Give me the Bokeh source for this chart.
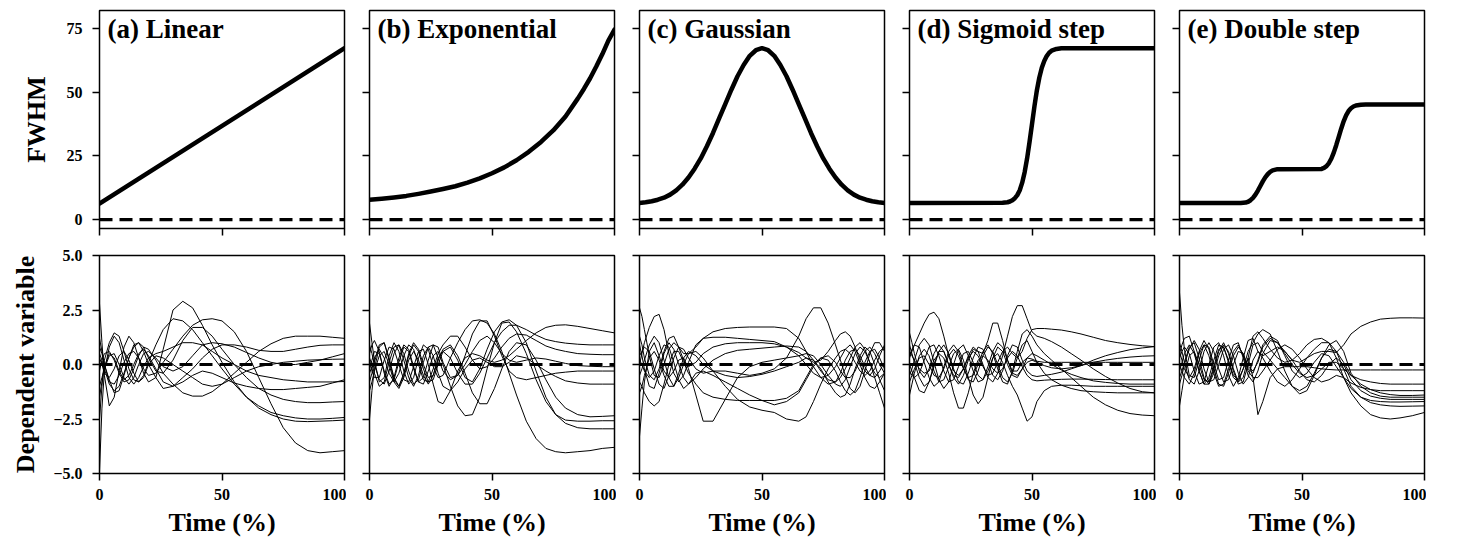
from bokeh.plotting import figure
from bokeh.layouts import column, row
from bokeh.models import Label, FixedTicker, Range1d, Span
from bokeh.embed import file_html
from bokeh.resources import INLINE

# ---------------- data ----------------
panel_titles = ["(a) Linear", "(b) Exponential", "(c) Gaussian", "(d) Sigmoid step", "(e) Double step"]
top_ylabel = "FWHM"
bottom_ylabel = "Dependent variable"
xlabel = "Time (%)"
x_ticks = [0, 50, 100]
top_y_ticks = [0, 25, 50, 75]
bottom_y_ticks = [-5, -2.5, 0, 2.5, 5]
bottom_y_tick_labels = ["\u22125.0", "\u22122.5", "0.0", "2.5", "5.0"]

# FWHM curves (top row)
fwhm_lin_t = [0, 100]
fwhm_lin = [6.3, 67.3]
fwhm_exp_t = [0, 5, 10, 15, 20, 25, 30, 35, 40, 45, 50, 55, 60, 65, 70, 75, 80, 85, 87.5, 90, 92.5, 95, 97.5, 100]
fwhm_exp = [7.8, 8.2, 8.7, 9.3, 10.1, 11.0, 12.0, 13.1, 14.5, 16.2, 18.2, 20.5, 23.3, 26.6, 30.5, 35.0, 40.5,
            47.5, 51.3, 55.4, 60.0, 64.9, 70.3, 74.6]
fwhm_gau_t = [0, 2.5, 5, 7.5, 10, 12.5, 15, 17.5, 20, 22.5, 25, 27.5, 30, 32.5, 35, 37.5, 40, 42.5, 45, 47.5, 50,
              52.5, 55, 57.5, 60, 62.5, 65, 67.5, 70, 72.5, 75, 77.5, 80, 82.5, 85, 87.5, 90, 92.5, 95, 97.5, 100]
fwhm_gau = [6.5, 6.8, 7.2, 7.8, 8.6, 9.8, 11.5, 13.7, 16.5, 20.0, 24.0, 28.8, 34.0, 39.7, 45.3, 51.0, 56.3, 60.7,
            64.3, 66.5, 67.3, 66.5, 64.3, 60.7, 56.3, 51.0, 45.3, 39.7, 34.0, 28.8, 24.0, 20.0, 16.5, 13.7, 11.5,
            9.8, 8.6, 7.8, 7.2, 6.8, 6.5]
fwhm_sig_t = [0, 38, 40, 41, 42, 43, 44, 45, 46, 47, 48, 49, 50, 51, 52, 53, 54, 55, 56, 57, 58, 60, 62, 100]
fwhm_sig = [6.5, 6.6, 6.8, 7.1, 7.6, 8.4, 9.6, 11.5, 14.5, 18.6, 24.0, 30.5, 37.5, 44.5, 50.8, 55.8, 59.6, 62.3,
            64.2, 65.5, 66.3, 67.0, 67.3, 67.3]
fwhm_dbl_t = [0, 25, 27, 28, 29, 30, 31, 32, 33, 34, 35, 36, 37, 38, 40, 58, 59, 60, 61, 62, 63, 64, 65, 66, 67,
              68, 69, 70, 71, 72, 74, 76, 100]
fwhm_dbl = [6.5, 6.5, 6.7, 7.0, 7.6, 8.5, 9.8, 11.4, 13.2, 15.0, 16.6, 17.8, 18.7, 19.3, 19.8, 19.9, 20.3, 21.0,
            22.2, 24.0, 26.4, 29.3, 32.5, 35.7, 38.6, 40.9, 42.6, 43.7, 44.4, 44.8, 45.1, 45.2, 45.2]

# Dependent variable curves (bottom row)
time_a = [0, 1, 2, 4, 6, 8, 10, 12, 14, 16, 18, 20, 23, 26, 30, 34, 38, 42, 46, 50, 55, 60, 65, 70, 75, 80, 85,
          90, 95, 100]
dv_linear = [
    [-4.9, -2.0, -0.3, 0.8, 1.3, 1.0, 0.2, -0.6, -0.9, -0.6, -0.1, 0.3, 0.5, 0.6, 0.8, 1.0, 1.0, 0.9, 0.6, 0.3,
     0.0, -0.3, -0.5, -0.6, -0.7, -0.75, -0.8, -0.8, -0.8, -0.78],
    [2.8, 1.0, -0.5, -1.9, -1.5, -0.3, 0.8, 1.3, 1.0, 0.3, -0.4, -0.8, -0.6, 0.7, 2.5, 2.9, 2.6, 1.8, 0.9, 0.1,
     -0.8, -1.5, -2.0, -2.3, -2.5, -2.6, -2.62, -2.6, -2.58, -2.55],
    [-2.5, -1.0, 0.2, 1.0, 1.45, 1.3, 0.6, -0.2, -0.7, -0.8, -0.5, 0.1, 0.9, 1.6, 2.1, 2.0, 1.6, 1.0, 0.4, -0.2,
     -0.9, -1.5, -1.9, -2.2, -2.35, -2.45, -2.5, -2.5, -2.47, -2.43],
    [1.2, 0.6, 0.0, -0.8, -0.9, -0.5, 0.1, 0.5, 0.6, 0.3, -0.2, -0.5, -0.4, 0.1, 0.7, 1.3, 1.8, 2.05, 2.1, 2.0,
     1.5, 0.6, -0.6, -1.8, -2.9, -3.6, -3.95, -4.05, -4.0, -3.95],
    [0.5, 0.2, -0.2, -0.9, -1.2, -1.0, -0.4, 0.3, 0.8, 1.0, 0.8, 0.3, -0.3, -0.4, 0.2, 1.1, 1.7, 1.7, 1.3, 0.7,
     0.0, -0.6, -1.1, -1.4, -1.6, -1.7, -1.75, -1.75, -1.72, -1.7],
    [-0.3, 0.2, 0.5, 0.6, 0.2, -0.4, -0.8, -0.7, -0.2, 0.4, 0.8, 0.7, 0.2, -0.4, -0.9, -1.3, -1.45, -1.45, -1.25,
     -0.9, -0.4, 0.1, 0.6, 0.95, 1.2, 1.3, 1.3, 1.3, 1.25, 1.2],
    [0.8, 0.5, 0.0, -0.7, -1.3, -1.2, -0.5, 0.3, 0.9, 1.0, 0.6, 0.0, -0.6, -1.1, -1.0, -0.6, -0.2, 0.3, 0.7, 0.9,
     0.9, 0.8, 0.65, 0.6, 0.6, 0.7, 0.8, 0.88, 0.9, 0.9],
    [-1.0, -0.6, -0.2, 0.4, 0.5, 0.0, -0.6, -0.9, -0.6, 0.0, 0.5, 0.6, 0.3, -0.1, -0.3, -0.1, 0.4, 0.9, 1.0, 0.95,
     0.8, 0.55, 0.3, 0.1, 0.0, 0.0, 0.1, 0.2, 0.35, 0.5],
    [0.3, 0.0, -0.4, -0.6, -0.2, 0.4, 0.6, 0.2, -0.4, -0.8, -0.6, 0.0, 0.4, 0.3, 0.0, -0.3, -0.6, -0.9, -1.0, -0.9,
     -0.6, -0.3, -0.1, 0.0, 0.1, 0.15, 0.2, 0.22, 0.24, 0.25],
    [-1.5, -0.8, -0.1, 0.5, 0.3, -0.3, -0.7, -0.5, 0.0, 0.5, 0.7, 0.4, -0.2, -0.8, -1.0, -0.8, -0.5, -0.3, -0.4,
     -0.6, -0.85, -1.0, -1.1, -1.15, -1.15, -1.1, -1.05, -1.0, -0.85, -0.7],
]

time_b = [0, 1, 2, 4, 6, 8, 10, 12, 14, 16, 18, 20, 22, 24, 26, 28, 30, 33, 36, 39, 42, 45, 48, 51, 54, 57, 60,
          64, 68, 72, 76, 80, 85, 90, 95, 100]
dv_exponential = [
    [1.9, 1.0, 0.2, -0.8, -0.6, 0.4, 1.0, 0.6, -0.3, -0.9, -0.6, 0.3, 0.9, 0.7, -0.1, -0.6, -0.5, 0.3, 1.0, 1.6,
     2.0, 2.05, 1.9, 1.4, 0.6, -0.4, -1.4, -2.6, -3.4, -3.85, -4.0, -4.05, -4.0, -3.95, -3.85, -3.8],
    [-2.5, -1.2, -0.2, 0.8, 1.0, 0.3, -0.6, -1.0, -0.5, 0.4, 0.9, 0.6, -0.2, -0.8, -0.7, 0.0, 0.6, 0.8, 0.2, -0.6,
     -0.8, -0.2, 0.7, 1.5, 1.95, 2.05, 1.8, 1.0, -0.3, -1.5, -2.3, -2.7, -2.9, -2.95, -2.95, -2.95],
    [0.5, 0.9, 1.1, 0.6, -0.4, -1.0, -0.6, 0.3, 0.9, 0.7, -0.1, -0.8, -0.9, -0.3, 0.4, 0.6, 0.0, -1.0, -1.9, -2.35,
     -2.3, -1.5, -0.2, 1.0, 1.9, 1.95, 1.5, 0.5, -0.7, -1.7, -2.3, -2.55, -2.6, -2.6, -2.58, -2.58],
    [-0.8, -0.4, 0.1, 0.9, 1.0, 0.2, -0.7, -1.0, -0.4, 0.5, 1.0, 0.7, 0.0, -0.6, -0.5, 0.2, 0.7, 0.9, 0.4, -0.4,
     -1.3, -1.8, -1.8, -1.1, -0.2, 0.6, 1.0, 0.9, 0.2, -0.7, -1.5, -2.0, -2.3, -2.4, -2.38, -2.35],
    [0.2, -0.3, -0.6, -0.6, 0.2, 0.8, 0.7, 0.0, -0.7, -0.8, -0.1, 0.6, 0.7, 0.0, -0.9, -1.7, -1.8, -1.2, -0.3, 0.3,
     0.5, 0.4, 0.2, 0.1, 0.2, 0.4, 0.7, 1.1, 1.45, 1.7, 1.8, 1.82, 1.75, 1.65, 1.55, 1.45],
    [-0.4, -0.1, 0.3, 0.7, 0.3, -0.4, -0.8, -0.4, 0.4, 0.9, 0.7, 0.0, -0.7, -0.8, -0.2, 0.5, 0.9, 1.3, 1.3, 0.8,
     0.2, -0.2, -0.1, 0.3, 0.8, 1.2, 1.4, 1.35, 1.1, 0.85, 0.7, 0.6, 0.5, 0.47, 0.45, 0.45],
    [0.9, 0.5, 0.0, -0.7, -0.9, -0.3, 0.5, 0.9, 0.5, -0.3, -0.9, -0.7, 0.1, 0.8, 0.9, 0.3, -0.3, -0.7, -0.5, 0.0,
     0.6, 1.1, 1.3, 1.0, 0.5, 0.2, 0.1, 0.2, 0.3, 0.25, 0.15, 0.05, -0.05, -0.08, -0.1, -0.1],
    [-0.2, 0.2, 0.6, 0.5, -0.3, -0.9, -0.7, 0.1, 0.8, 0.6, -0.2, -0.8, -0.6, 0.2, 0.9, 0.8, 0.1, -0.6, -0.5, 0.4,
     1.4, 2.0, 2.0, 1.3, 0.4, -0.3, -0.6, -0.7, -0.6, -0.5, -0.4, -0.35, -0.3, -0.3, -0.3, -0.3],
    [0.3, 0.0, -0.4, -1.0, -0.8, 0.1, 0.8, 0.9, 0.2, -0.6, -1.0, -0.5, 0.4, 0.8, 0.4, -0.4, -1.0, -1.2, -0.8, -0.2,
     0.2, 0.3, 0.1, -0.1, -0.1, 0.1, 0.4, 0.3, 0.0, -0.3, -0.55, -0.75, -0.85, -0.9, -0.9, -0.9],
    [-1.2, -0.8, -0.3, 0.4, 0.6, 0.0, -0.8, -1.1, -0.6, 0.2, 0.6, 0.2, -0.5, -0.9, -0.5, 0.3, 0.6, 0.3, -0.4, -0.9,
     -0.9, -0.4, 0.3, 1.0, 1.5, 1.8, 1.8, 1.6, 1.35, 1.15, 1.05, 0.98, 0.93, 0.9, 0.9, 0.9],
]

time_c = [0, 1, 2, 4, 6, 8, 10, 12, 14, 16, 18, 20, 23, 26, 30, 35, 40, 45, 50, 55, 60, 65, 68, 71, 74, 77, 80,
          82, 84, 86, 88, 90, 92, 94, 96, 98, 100]
dv_gaussian = [
    [2.6, 2.2, 1.6, 0.4, -0.5, -0.6, 0.0, 0.7, 1.0, 0.8, 0.5, 0.5, 0.8, 1.2, 1.5, 1.65, 1.7, 1.72, 1.72, 1.72,
     1.65, 1.2, 0.6, -0.1, -0.6, -0.9, -0.8, -0.4, 0.2, 0.6, 0.7, 0.4, -0.1, -0.5, -0.6, -0.3, 0.1],
    [-3.3, -2.0, -0.8, 0.6, 1.0, 0.4, -0.3, -0.6, -0.3, 0.2, 0.3, -0.2, -1.4, -2.6, -2.6, -1.6, -0.6, -0.1, 0.1,
     0.2, 0.3, 0.4, 0.5, 0.4, 0.0, -0.5, -0.9, -1.0, -0.7, -0.1, 0.5, 0.8, 0.6, 0.1, -0.4, -0.6, -0.4],
    [0.4, 0.6, 0.8, 0.6, -0.2, -0.9, -1.1, -0.5, 0.3, 0.8, 0.7, 0.3, -0.2, -0.4, -0.3, -0.3, -0.4, -0.5, -0.4,
     -0.2, 0.3, 1.3, 2.1, 2.6, 2.6, 1.9, 0.9, 0.2, -0.5, -1.1, -1.3, -1.0, -0.3, 0.5, 1.0, 1.0, 0.6],
    [-0.5, -0.2, 0.2, 0.9, 1.3, 1.0, 0.2, -0.6, -1.0, -0.6, 0.0, 0.5, 0.6, 0.3, -0.3, -1.0, -1.6, -1.95, -2.1,
     -2.2, -2.5, -2.6, -2.4, -1.7, -0.9, -0.2, 0.3, 0.6, 0.7, 0.5, 0.1, -0.3, -0.5, -0.3, 0.2, 0.6, 0.8],
    [0.0, 0.5, 1.0, 1.7, 2.2, 2.3, 1.6, 0.5, -0.4, -0.8, -0.5, 0.1, 0.9, 1.2, 1.25, 1.25, 1.2, 1.15, 1.1, 1.05,
     0.8, 0.4, 0.0, -0.4, -0.6, -0.5, -0.1, 0.3, 0.7, 0.9, 0.6, 0.0, -0.6, -1.0, -1.1, -0.8, -0.4],
    [-0.8, -1.0, -1.3, -1.7, -1.9, -1.7, -0.9, 0.0, 0.6, 0.6, 0.1, -0.4, -0.9, -1.3, -1.5, -1.6, -1.65, -1.65,
     -1.65, -1.65, -1.55, -1.2, -0.6, 0.0, 0.3, 0.2, -0.3, -0.8, -1.2, -1.4, -1.2, -0.6, 0.1, 0.6, 0.7, 0.3, -0.2],
    [1.3, 0.9, 0.3, -0.5, -0.7, -0.2, 0.6, 1.2, 1.3, 0.8, 0.2, -0.1, 0.1, 0.5, 0.8, 0.95, 1.0, 1.0, 1.0, 0.95,
     0.8, 0.55, 0.3, 0.1, 0.2, 0.6, 1.1, 1.4, 1.5, 1.3, 0.8, 0.2, -0.3, -0.5, -0.2, 0.4, 0.9],
    [-1.3, -1.0, -0.5, 0.3, 0.6, 0.2, -0.5, -1.0, -1.0, -0.4, 0.3, 0.6, 0.4, 0.0, -0.3, -0.5, -0.6, -0.55, -0.45,
     -0.3, -0.1, 0.1, 0.3, 0.2, -0.2, -0.8, -1.3, -1.5, -1.4, -0.9, -0.2, 0.4, 0.8, 0.6, 0.0, -0.7, -1.2],
    [0.9, 0.4, -0.2, -1.0, -1.1, -0.4, 0.5, 1.0, 0.7, 0.0, -0.6, -0.9, -0.6, -0.2, 0.2, 0.5, 0.65, 0.7, 0.75, 0.8,
     0.85, 0.8, 0.6, 0.2, -0.3, -0.7, -0.8, -0.6, -0.2, 0.3, 0.8, 1.0, 0.7, 0.1, -0.6, -1.3, -2.0],
    [0.2, 0.0, -0.3, -0.6, -0.3, 0.4, 0.9, 0.8, 0.1, -0.7, -1.1, -0.9, -0.4, -0.3, -0.5, -0.8, -1.1, -1.4, -1.65,
     -1.85, -1.7, -1.3, -0.7, -0.1, 0.3, 0.4, 0.1, -0.3, -0.6, -0.6, -0.3, 0.2, 0.6, 0.8, 0.5, 0.0, -0.4],
]

time_d = [0, 1, 2, 4, 6, 8, 10, 12, 14, 16, 18, 20, 22, 24, 26, 28, 30, 32, 34, 36, 38, 40, 42, 44, 46, 48, 50,
          52, 55, 58, 62, 66, 70, 75, 80, 85, 90, 95, 100]
dv_sigmoid = [
    [0.3, 0.6, 0.9, 1.4, 1.9, 2.3, 2.4, 2.1, 1.3, 0.4, -0.3, -0.5, -0.2, 0.3, 0.6, 0.4, -0.1, -0.5, -0.4, 0.1,
     0.6, 0.8, 0.5, 0.3, 0.6, 1.2, 1.6, 1.65, 1.65, 1.62, 1.58, 1.5, 1.4, 1.25, 1.1, 1.0, 0.92, 0.86, 0.82],
    [1.45, 1.0, 0.5, -0.3, -0.6, -0.2, 0.5, 0.9, 0.6, 0.0, -0.5, -0.6, -0.2, 0.4, 0.8, 0.6, 0.0, -0.6, -0.8, -0.4,
     0.4, 1.3, 2.2, 2.7, 2.7, 2.1, 1.5, 1.3, 1.2, 1.05, 0.8, 0.5, 0.2, -0.2, -0.55, -0.85, -1.1, -1.25, -1.3],
    [-0.3, -0.5, -0.6, -0.4, 0.2, 0.8, 0.9, 0.4, -0.3, -0.8, -0.7, -0.1, 0.5, 0.6, 0.1, -0.5, -0.7, -0.3, 0.3, 0.5,
     0.1, -0.5, -1.0, -1.4, -2.0, -2.6, -2.4, -1.7, -1.2, -1.0, -0.95, -0.95, -0.97, -1.0, -1.0, -1.0, -1.0, -1.0,
     -1.0],
    [0.9, 0.5, 0.1, -0.6, -1.0, -0.8, -0.1, 0.6, 0.9, 0.5, -0.2, -0.8, -0.9, -0.4, 0.3, 0.8, 0.7, 0.1, -0.5, -0.7,
     -0.3, 0.4, 0.9, 0.8, 0.2, -0.3, -0.5, -0.55, -0.5, -0.45, -0.35, -0.2, -0.05, 0.2, 0.4, 0.55, 0.68, 0.76,
     0.82],
    [-0.5, -0.2, 0.2, 0.9, 1.2, 0.9, 0.1, -0.7, -1.1, -0.8, 0.0, 0.7, 0.9, 0.4, -0.3, -0.8, -0.7, -0.1, 0.6, 1.0,
     0.8, 0.2, -0.4, -0.5, -0.2, 0.1, 0.2, 0.1, -0.05, -0.15, -0.2, -0.15, -0.05, 0.1, 0.2, 0.28, 0.34, 0.38, 0.4],
    [0.0, -0.3, -0.6, -1.2, -1.3, -0.8, 0.0, 0.6, 0.6, 0.0, -0.6, -0.9, -0.5, 0.2, 0.7, 0.6, 0.5, 1.1, 1.9, 1.9,
     1.1, 0.2, -0.3, -0.3, 0.1, 0.3, 0.25, 0.15, 0.1, 0.1, 0.1, 0.1, 0.1, 0.1, 0.1, 0.1, 0.1, 0.1, 0.1],
    [0.6, 0.4, 0.2, -0.2, -0.4, -0.3, 0.2, 0.5, 0.3, -0.4, -1.3, -2.0, -2.0, -1.3, -0.4, 0.2, 0.4, 0.2, -0.2, -0.4,
     -0.2, 0.3, 0.6, 0.4, -0.1, -0.5, -0.7, -0.75, -0.72, -0.7, -0.68, -0.67, -0.67, -0.68, -0.69, -0.7, -0.7,
     -0.7, -0.7],
    [-1.4, -0.9, -0.4, 0.4, 0.7, 0.4, -0.3, -0.8, -0.7, -0.1, 0.5, 0.7, 0.2, -0.6, -1.4, -1.8, -1.5, -0.6, 0.3, 0.8,
     0.6, 0.0, -0.5, -0.6, -0.2, 0.3, 0.5, 0.4, 0.2, 0.0, -0.25, -0.45, -0.6, -0.75, -0.82, -0.87, -0.9, -0.9,
     -0.9],
    [0.4, 0.7, 0.9, 0.8, 0.1, -0.6, -1.0, -0.8, -0.1, 0.6, 0.9, 0.6, -0.1, -0.7, -0.8, -0.3, 0.4, 0.8, 0.6, 0.0,
     -0.6, -0.8, -0.4, 0.3, 0.9, 1.1, 0.6, 0.1, -0.4, -0.7, -0.95, -1.1, -1.2, -1.25, -1.28, -1.3, -1.3, -1.3,
     -1.3],
    [-0.8, -0.5, -0.2, 0.3, 0.4, 0.0, -0.5, -0.6, -0.2, 0.4, 0.7, 0.4, -0.2, -0.6, -0.5, 0.0, 0.6, 0.9, 0.5, -0.2,
     -0.8, -0.9, -0.3, 0.6, 1.4, 1.6, 1.3, 0.9, 0.5, 0.2, -0.2, -0.6, -1.0, -1.5, -1.85, -2.1, -2.25, -2.32, -2.35],
]

time_e = [0, 1, 2, 4, 6, 8, 10, 12, 14, 16, 18, 20, 22, 24, 26, 28, 30, 32, 34, 37, 40, 43, 46, 49, 52, 55, 58,
          61, 64, 67, 70, 74, 78, 82, 86, 90, 95, 100]
dv_double = [
    [3.3, 1.8, 0.7, -0.5, -0.6, 0.2, 0.9, 0.8, 0.0, -0.7, -0.6, 0.2, 0.9, 1.0, 0.3, -0.5, -0.8, -0.3, 0.5, 1.1,
     1.0, 0.6, 0.2, 0.1, 0.3, 0.5, 0.6, 0.6, 0.55, 0.9, 1.4, 1.75, 1.95, 2.08, 2.12, 2.14, 2.14, 2.13],
    [-1.9, -1.2, -0.5, 0.4, 0.6, 0.0, -0.7, -0.8, -0.1, 0.7, 0.8, 0.2, -0.5, -0.7, -0.2, 0.3, -0.6, -2.3, -1.7,
     -0.6, -0.2, -0.1, -0.1, -0.1, -0.1, -0.15, -0.2, -0.23, -0.25, -0.25, -0.25, -0.25, -0.25, -0.25, -0.25,
     -0.25, -0.25, -0.25],
    [0.5, 0.9, 1.2, 1.3, 0.6, -0.3, -0.9, -0.6, 0.2, 0.9, 0.8, 0.1, -0.6, -0.8, -0.2, 0.6, 1.0, 1.4, 1.6, 1.4,
     0.6, -0.3, -1.0, -1.35, -1.2, -0.5, 0.3, 0.9, 1.1, 0.6, -0.4, -1.0, -1.3, -1.45, -1.5, -1.5, -1.5, -1.5],
    [-0.6, -0.3, 0.1, 0.8, 1.0, 0.3, -0.6, -0.9, -0.4, 0.4, 0.9, 0.6, -0.2, -0.8, -0.6, 0.3, 1.3, 1.5, 1.2, 0.7,
     0.3, 0.1, 0.2, 0.5, 0.9, 1.15, 1.2, 1.0, 0.3, -0.6, -1.3, -1.9, -2.3, -2.45, -2.5, -2.45, -2.35, -2.2],
    [1.0, 0.6, 0.1, -0.7, -0.9, -0.3, 0.6, 1.0, 0.6, -0.2, -0.8, -0.7, 0.0, 0.6, 0.5, -0.1, -0.3, 0.1, 0.8, 1.2,
     1.0, 0.5, 0.0, -0.4, -0.6, -0.5, -0.2, 0.1, 0.1, -0.2, -0.5, -0.7, -0.8, -0.87, -0.9, -0.9, -0.9, -0.9],
    [0.0, -0.3, -0.6, -0.9, -0.4, 0.5, 0.9, 0.4, -0.4, -1.0, -0.9, -0.2, 0.6, 0.9, 0.4, -0.3, -0.6, -0.6, -0.3,
     0.2, 0.7, 0.9, 0.7, 0.3, -0.2, -0.6, -0.8, -0.7, -0.5, -0.6, -0.85, -1.05, -1.15, -1.2, -1.2, -1.2, -1.2,
     -1.2],
    [0.3, 0.6, 0.8, 0.5, -0.3, -0.9, -0.8, 0.0, 0.8, 1.0, 0.4, -0.5, -1.0, -0.6, 0.3, 1.1, 1.2, 0.6, 0.4, 0.6,
     0.8, 0.6, 0.2, -0.3, -0.7, -0.8, -0.5, 0.0, 0.3, 0.0, -0.7, -1.2, -1.45, -1.55, -1.6, -1.6, -1.6, -1.6],
    [-0.9, -0.5, 0.0, 0.7, 1.1, 0.7, -0.2, -0.8, -0.7, 0.0, 0.7, 0.9, 0.4, -0.4, -0.9, -0.6, 0.2, 0.6, 0.3, -0.3,
     -0.8, -1.0, -0.7, -0.2, 0.3, 0.7, 1.0, 1.0, 0.6, -0.2, -1.0, -1.5, -1.65, -1.7, -1.72, -1.72, -1.71, -1.7],
    [0.6, 0.2, -0.2, -0.6, -0.2, 0.6, 1.1, 0.7, -0.2, -0.9, -1.0, -0.4, 0.4, 0.8, 0.5, -0.2, -0.4, 0.2, 0.9, 1.3,
     1.1, 0.4, -0.3, -0.6, -0.4, 0.1, 0.5, 0.4, -0.1, -0.6, -1.1, -1.5, -1.75, -1.85, -1.9, -1.92, -1.91, -1.9],
    [-0.3, 0.1, 0.5, 0.9, 0.5, -0.3, -0.9, -0.9, -0.2, 0.6, 1.0, 0.5, -0.3, -0.9, -0.8, 0.0, 0.9, 1.0, 0.6, 0.2,
     -0.2, -0.6, -1.0, -1.2, -1.0, -0.4, 0.3, 0.7, 0.6, 0.1, -0.5, -0.9, -1.15, -1.3, -1.38, -1.42, -1.42, -1.4],
]

top_series = [(fwhm_lin_t, fwhm_lin), (fwhm_exp_t, fwhm_exp), (fwhm_gau_t, fwhm_gau),
              (fwhm_sig_t, fwhm_sig), (fwhm_dbl_t, fwhm_dbl)]
bottom_series = [(time_a, dv_linear), (time_b, dv_exponential), (time_c, dv_gaussian),
                 (time_d, dv_sigmoid), (time_e, dv_double)]

# ---------------- styling ----------------
FONT = "Liberation Serif"
FRAME_W = 245
FRAME_H = 218
TOP_YRANGE = (-3.5, 82.1)
BOT_YRANGE = (-5, 5)


def style_axes(p, show_x_labels, show_y_labels, ylabel=None, xl=None):
    p.grid.visible = False
    p.outline_line_color = "black"
    p.outline_line_width = 1.5
    for ax in (p.xaxis[0], p.yaxis[0]):
        ax.axis_line_color = None
        ax.major_tick_line_color = "black"
        ax.major_tick_line_width = 1.5
        ax.major_tick_in = 0
        ax.major_tick_out = 7
        ax.minor_tick_line_color = None
        ax.major_label_text_font = FONT
        ax.major_label_text_font_style = "bold"
        ax.major_label_text_color = "black"
        ax.axis_label_text_font = FONT
        ax.axis_label_text_font_style = "bold"
        ax.axis_label_text_font_size = "26px"
        ax.axis_label_text_color = "black"
    p.xaxis.ticker = FixedTicker(ticks=x_ticks)
    if show_x_labels:
        p.xaxis.major_label_text_font_size = "16px"
        p.xaxis.major_label_standoff = 8
        p.xaxis.axis_label = xl
        p.xaxis.axis_label_standoff = 5
    else:
        # ticks only, no tick labels drawn
        p.xaxis.major_label_text_font_size = "1px"
        p.xaxis.major_label_text_color = None
        p.xaxis.major_label_standoff = 0
    if show_y_labels:
        p.yaxis.major_label_text_font_size = "16px"
        p.yaxis.major_label_standoff = 10
        p.yaxis.axis_label = ylabel
        p.yaxis.axis_label_standoff = 10
    else:
        p.yaxis.major_label_text_font_size = "1px"
        p.yaxis.major_label_text_color = None
        p.yaxis.major_label_standoff = 0


top_figs = []
bot_figs = []
for i in range(5):
    left = 99 if i == 0 else 23
    # ---- top row ----
    pt = figure(frame_width=FRAME_W, frame_height=FRAME_H, output_backend="svg", toolbar_location=None,
                x_range=Range1d(0, 100), y_range=Range1d(*TOP_YRANGE),
                min_border_left=left, min_border_right=2, min_border_top=10, min_border_bottom=12)
    style_axes(pt, False, i == 0, ylabel=top_ylabel)
    if i == 0:
        pt.yaxis.axis_label_standoff = 13
    pt.yaxis.ticker = FixedTicker(ticks=top_y_ticks)
    tx, ty = top_series[i]
    pt.line(tx, ty, line_color="black", line_width=4.5, line_join="round", line_cap="round")
    pt.add_layout(Span(location=0, dimension="width", line_color="black", line_width=3.2, line_dash="13 7"))
    pt.add_layout(Label(x=8, y=FRAME_H - 3, x_units="screen", y_units="screen", text=panel_titles[i],
                        text_font=FONT, text_font_style="bold", text_font_size="27px",
                        text_baseline="top", text_align="left", text_color="black"))
    top_figs.append(pt)

    # ---- bottom row ----
    pb = figure(frame_width=FRAME_W, frame_height=FRAME_H, output_backend="svg", toolbar_location=None,
                x_range=Range1d(0, 100), y_range=Range1d(*BOT_YRANGE),
                min_border_left=left, min_border_right=2, min_border_top=15, min_border_bottom=70)
    style_axes(pb, True, i == 0, ylabel=bottom_ylabel, xl=xlabel)
    pb.yaxis.ticker = FixedTicker(ticks=bottom_y_ticks)
    pb.yaxis.major_label_overrides = {t: s for t, s in zip(bottom_y_ticks, bottom_y_tick_labels)}
    bx, curves = bottom_series[i]
    pb.multi_line(xs=[bx] * len(curves), ys=curves, line_color="black", line_width=1.0, line_join="round")
    pb.add_layout(Span(location=0, dimension="width", line_color="black", line_width=3.2, line_dash="13 7"))
    bot_figs.append(pb)

layout = column(row(*top_figs, spacing=0), row(*bot_figs, spacing=0), spacing=0)
open("out.html", "w").write(file_html(layout, INLINE))
